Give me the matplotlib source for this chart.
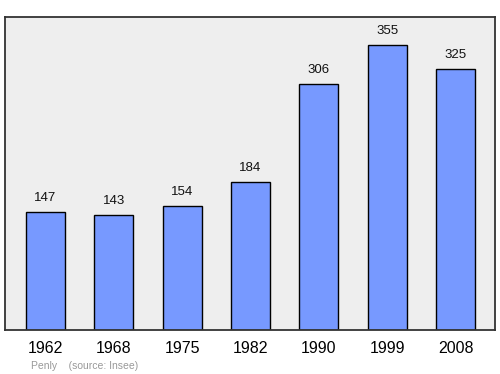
import matplotlib.pyplot as plt

years = ['1962', '1968', '1975', '1982', '1990', '1999', '2008']
population = [147, 143, 154, 184, 306, 355, 325]

plt.rcParams['font.family'] = ['Liberation Sans', 'DejaVu Sans']

fig = plt.figure(figsize=(5, 3.74), dpi=100)
ax = fig.add_axes([0.01, 0.1176, 0.98, 0.837])
ax.set_facecolor('#eeeeee')

x = range(len(years))
ax.bar(x, population, width=0.57, color='#7799ff', edgecolor='black', linewidth=1)

for i, v in enumerate(population):
    ax.annotate(str(v), (i, v), xytext=(0, 6), textcoords='offset points',
                ha='center', va='bottom', fontsize=9.5, color='#111111')

ax.set_xlim(-0.593, 6.578)
ax.set_ylim(0, 390)
ax.set_xticks(list(x))
ax.set_xticklabels(years, fontsize=11.5)
ax.tick_params(axis='x', length=0, pad=8)
ax.set_yticks([])
for s in ax.spines.values():
    s.set_color('#333333')
    s.set_linewidth(1.3)

fig.text(0.062, 0.014, 'Penly    (source: Insee)', fontsize=7.5, color='#999999')

fig.savefig('out.png', dpi=100)
